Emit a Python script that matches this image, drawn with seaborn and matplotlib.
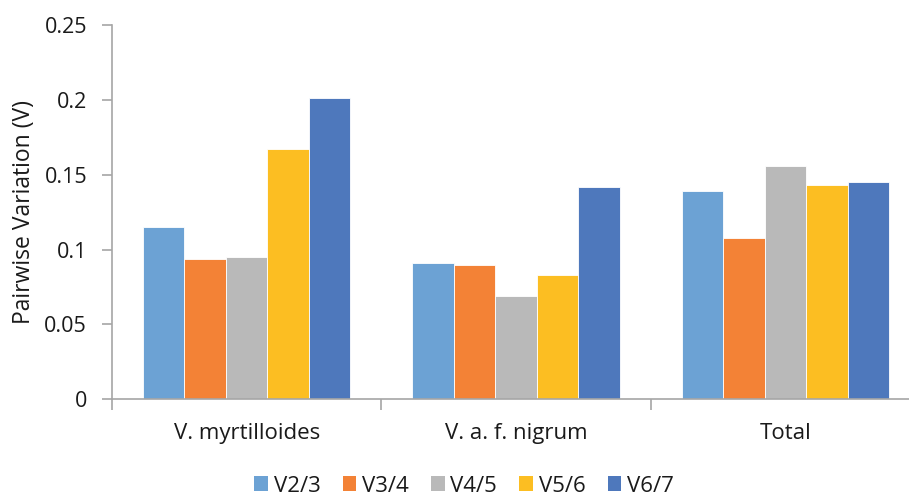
import matplotlib
matplotlib.use("Agg")
import matplotlib.pyplot as plt
import seaborn as sns
import pandas as pd
from matplotlib.patches import Patch
from matplotlib.ticker import FixedLocator

categories = ["V. myrtilloides", "V. a. f. nigrum", "Total"]
series = ["V2/3", "V3/4", "V4/5", "V5/6", "V6/7"]
values = {
    "V2/3": [0.115, 0.091, 0.139],
    "V3/4": [0.094, 0.090, 0.108],
    "V4/5": [0.095, 0.069, 0.156],
    "V5/6": [0.167, 0.083, 0.143],
    "V6/7": [0.201, 0.142, 0.145],
}
yticks = [0, 0.05, 0.1, 0.15, 0.2, 0.25]
ytick_labels = ["0", "0.05", "0.1", "0.15", "0.2", "0.25"]
colors = ["#6CA2D4", "#F38236", "#B9B9B9", "#FCBE22", "#4E78BC"]

rows = []
for s in series:
    for c, v in zip(categories, values[s]):
        rows.append({"cat": c, "series": s, "value": v})
df = pd.DataFrame(rows)

sns.set_theme(style="white")
plt.rcParams["font.family"] = ["Open Sans", "DejaVu Sans"]

fig = plt.figure(figsize=(9.09, 4.96), dpi=100)
ax = fig.add_axes([112 / 909, 96.7 / 496, 808 / 909, 374.3 / 496])

sns.barplot(data=df, x="cat", y="value", hue="series", order=categories,
            hue_order=series, palette=colors, width=0.77, gap=0,
            edgecolor="white", linewidth=0.6, saturation=1, ax=ax, legend=False)

ax.set_xlim(-0.5, 2.5)
ax.set_ylim(0, 0.25)
ax.set_yticks(yticks)
ax.set_yticklabels(ytick_labels)
ax.set_xlabel("")
ax.set_ylabel("Pairwise Variation (V)", fontsize=16.5, color="#1a1a1a", labelpad=6)

spine_c = "#A6A6A6"
for side in ["top", "right"]:
    ax.spines[side].set_visible(False)
for side in ["left", "bottom"]:
    ax.spines[side].set_color(spine_c)
    ax.spines[side].set_linewidth(1.2)

ax.tick_params(axis="y", which="major", left=True, length=7, width=1.2,
               color=spine_c, labelsize=15.5, labelcolor="#1a1a1a", pad=11)
ax.tick_params(axis="x", which="major", bottom=False, length=0,
               labelsize=16, labelcolor="#1a1a1a", pad=17)
ax.xaxis.set_minor_locator(FixedLocator([-0.5, 0.5, 1.5, 2.5]))
ax.tick_params(axis="x", which="minor", bottom=True, length=8, width=1.2,
               color=spine_c)

handles = [Patch(facecolor=c, edgecolor="none", label=s) for c, s in zip(colors, series)]
fig.legend(handles=handles, loc="center", bbox_to_anchor=(464 / 909, 1 - 486 / 496),
           ncol=5, frameon=False, fontsize=16, handlelength=0.62, handleheight=0.62,
           handletextpad=0.25, columnspacing=1.0, labelcolor="#1a1a1a")

fig.savefig("out.png", dpi=100)
